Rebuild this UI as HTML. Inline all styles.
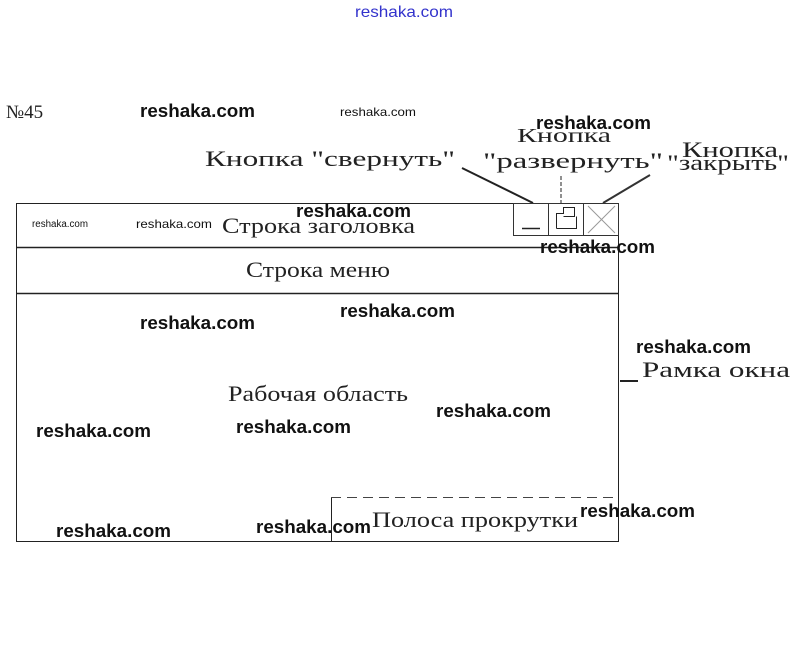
<!DOCTYPE html>
<html><head><meta charset="utf-8"><style>
html,body{margin:0;padding:0;background:#fff;}
svg{display:block}
.s{font-family:"Liberation Serif",serif;fill:#222}
.w{font-family:"Liberation Sans",sans-serif;font-weight:bold;fill:#111}
</style></head><body>
<svg width="806" height="645" viewBox="0 0 806 645" xmlns="http://www.w3.org/2000/svg">
<text x="355" y="17" textLength="98" lengthAdjust="spacingAndGlyphs" font-family="Liberation Sans,sans-serif" font-size="16" fill="#3333cc">reshaka.com</text>
<text x="6" y="118" class="s" font-size="19">№45</text>
<text x="140" y="117" class="w" font-size="18" textLength="115" lengthAdjust="spacingAndGlyphs">reshaka.com</text>
<text x="340" y="116" font-family="Liberation Sans,sans-serif" font-size="12" fill="#111" textLength="76" lengthAdjust="spacingAndGlyphs">reshaka.com</text>
<!-- labels -->
<text x="205" y="166" class="s" font-size="22" fill="#444" textLength="250" lengthAdjust="spacingAndGlyphs">Кнопка "свернуть"</text>
<text x="517" y="142" class="s" font-size="20" fill="#444" textLength="94" lengthAdjust="spacingAndGlyphs">Кнопка</text>
<text x="483" y="168" class="s" font-size="22" fill="#555" textLength="180" lengthAdjust="spacingAndGlyphs">"развернуть"</text>
<text x="682" y="157" class="s" font-size="22" fill="#444" textLength="96" lengthAdjust="spacingAndGlyphs">Кнопка</text>
<text x="667" y="170" class="s" font-size="22" fill="#333" textLength="122" lengthAdjust="spacingAndGlyphs">"закрыть"</text>
<text x="536" y="129" class="w" font-size="18" textLength="115" lengthAdjust="spacingAndGlyphs">reshaka.com</text>
<!-- leader lines -->
<line x1="462" y1="168" x2="533" y2="203" stroke="#222" stroke-width="2"/>
<line x1="561" y1="176" x2="561" y2="203" stroke="#222" stroke-width="1" stroke-dasharray="4,2"/>
<line x1="650" y1="175" x2="603" y2="203" stroke="#333" stroke-width="2"/>
<!-- window -->
<rect x="16.5" y="203.5" width="602" height="338" fill="none" stroke="#222" stroke-width="1"/>
<line x1="16" y1="247.5" x2="618" y2="247.5" stroke="#222" stroke-width="1.5"/>
<line x1="16" y1="293.5" x2="618" y2="293.5" stroke="#222" stroke-width="1.5"/>
<!-- buttons -->
<rect x="513.5" y="203.5" width="35" height="32" fill="none" stroke="#333"/>
<rect x="548.5" y="203.5" width="35" height="32" fill="none" stroke="#333"/>
<rect x="583.5" y="203.5" width="35" height="32" fill="none" stroke="#333"/>
<line x1="522" y1="228.5" x2="540" y2="228.5" stroke="#222" stroke-width="1.5"/>
<path d="M556.5 228.5 V213.5 H563.5 V207.5 H574.5 V216.5 H563.5" fill="none" stroke="#222"/>
<path d="M556.5 228.5 H576.5 V216.5" fill="none" stroke="#222"/>
<line x1="588" y1="206" x2="615" y2="233" stroke="#999"/>
<line x1="615" y1="206" x2="588" y2="233" stroke="#999"/>
<text x="222" y="233" class="s" font-size="22" fill="#444" textLength="193" lengthAdjust="spacingAndGlyphs">Строка заголовка</text>
<text x="246" y="277" class="s" font-size="22" textLength="144" lengthAdjust="spacingAndGlyphs">Строка меню</text>
<text x="228" y="401" class="s" font-size="22" textLength="180" lengthAdjust="spacingAndGlyphs">Рабочая область</text>
<!-- scrollbar -->
<line x1="331.5" y1="497" x2="331.5" y2="541" stroke="#222"/>
<line x1="331" y1="497.5" x2="618" y2="497.5" stroke="#444" stroke-dasharray="10,6"/>
<text x="372" y="527" class="s" font-size="22" fill="#444" textLength="206" lengthAdjust="spacingAndGlyphs">Полоса прокрутки</text>
<!-- frame label -->
<line x1="620" y1="381" x2="638" y2="381" stroke="#222" stroke-width="2"/>
<text x="642" y="377" class="s" font-size="22" fill="#444" textLength="148" lengthAdjust="spacingAndGlyphs">Рамка окна</text>
<!-- watermarks -->
<text x="32" y="227" font-family="Liberation Sans,sans-serif" font-size="10" fill="#111" textLength="56" lengthAdjust="spacingAndGlyphs">reshaka.com</text>
<text x="136" y="228" font-family="Liberation Sans,sans-serif" font-size="12" fill="#111" textLength="76" lengthAdjust="spacingAndGlyphs">reshaka.com</text>
<g class="w" font-size="18">
<text x="296" y="217" textLength="115" lengthAdjust="spacingAndGlyphs">reshaka.com</text>
<text x="540" y="253" textLength="115" lengthAdjust="spacingAndGlyphs">reshaka.com</text>
<text x="140" y="329" textLength="115" lengthAdjust="spacingAndGlyphs">reshaka.com</text>
<text x="340" y="317" textLength="115" lengthAdjust="spacingAndGlyphs">reshaka.com</text>
<text x="636" y="353" textLength="115" lengthAdjust="spacingAndGlyphs">reshaka.com</text>
<text x="436" y="417" textLength="115" lengthAdjust="spacingAndGlyphs">reshaka.com</text>
<text x="36" y="437" textLength="115" lengthAdjust="spacingAndGlyphs">reshaka.com</text>
<text x="236" y="433" textLength="115" lengthAdjust="spacingAndGlyphs">reshaka.com</text>
<text x="56" y="537" textLength="115" lengthAdjust="spacingAndGlyphs">reshaka.com</text>
<text x="256" y="533" textLength="115" lengthAdjust="spacingAndGlyphs">reshaka.com</text>
<text x="580" y="517" textLength="115" lengthAdjust="spacingAndGlyphs">reshaka.com</text>
</g>
</svg>
</body></html>
